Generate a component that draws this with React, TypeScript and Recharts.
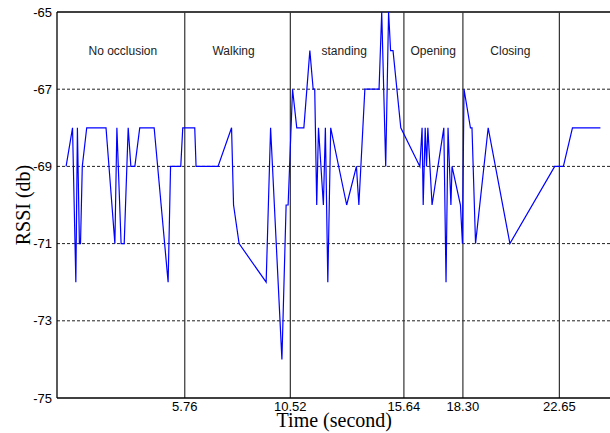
import React from 'react';
import { LineChart, Line, XAxis, YAxis, ReferenceLine, ReferenceDot } from 'recharts';

const times = [
  0.41, 0.70, 0.85, 0.92, 1.01, 1.06, 1.14, 1.34, 2.21, 2.61, 2.70, 2.89, 3.03, 3.21, 3.33, 3.51, 3.73, 4.38,
  5.01, 5.12, 5.58, 5.67, 6.21, 6.27, 7.26, 7.87, 7.96, 8.21, 9.43, 9.63, 10.14, 10.33, 10.42,
  10.62, 10.81, 11.13, 11.40, 11.55, 11.62, 11.71, 11.79, 12.01, 12.10, 12.21, 12.34, 13.06, 13.50, 13.61,
  13.88, 14.52, 14.64, 14.82, 14.95, 15.04, 15.15, 15.50,
  16.36, 16.46, 16.51, 16.60, 16.66, 16.72, 16.91, 17.44, 17.54, 17.63, 17.76, 17.81, 18.19, 18.28,
  18.35, 18.64, 18.71, 18.87, 19.44, 20.42, 22.44, 22.83, 23.24, 24.50,
];
const rssi = [
  -69, -68, -72, -68, -71, -71, -69, -68, -68, -71, -68, -71, -71, -68, -69, -69, -68, -68,
  -72, -69, -69, -68, -68, -69, -69, -68, -70, -71, -72, -68, -74, -70, -70,
  -67, -68, -68, -66, -67, -67, -70, -68, -70, -68, -72, -68, -70, -69, -70,
  -67, -67, -65, -69, -65, -66, -66, -68,
  -69, -68, -70, -68, -69, -68, -70, -68, -72, -68, -70, -69, -70, -71,
  -67, -68, -68, -71, -68, -71, -69, -69, -68, -68,
];

const phaseBoundaries = [5.76, 10.52, 15.64, 18.3, 22.65];
const phaseNames = ['No occlusion', 'Walking', 'standing', 'Opening', 'Closing'];
const phaseLabelX = [2.97, 7.96, 12.95, 16.96, 20.44];
const phaseLabelY = -66;
const yTicks = [-75, -73, -71, -69, -67, -65];
const dashedLevels = [-73, -71, -69, -67];

const data = times.map((t, i) => ({ t, rssi: rssi[i] }));

const SANS = 'Liberation Sans, Arial, sans-serif';
const SERIF = 'Liberation Serif, Times New Roman, serif';

export default function App() {
  return (
    <div style={{ position: 'absolute', left: 0, top: 0, width: 610, height: 433, overflow: 'hidden', background: '#fff' }}>
      <LineChart width={620} height={433} data={data} margin={{ top: 12, right: 8.5, bottom: 0, left: 0 }}>
        <XAxis
          dataKey="t"
          type="number"
          domain={[0, 25]}
          ticks={phaseBoundaries}
          interval={0}
          allowDataOverflow
          tickFormatter={(v: number) => v.toFixed(2)}
          axisLine={{ stroke: '#000', strokeWidth: 1.3 }}
          tickLine={false}
          tickSize={2}
          tickMargin={2}
          height={35}
          tick={{ fill: '#000', fontSize: 13, fontFamily: SANS }}
          label={(props: any) => {
            const vb = props.viewBox || { x: 57, y: 398, width: 554, height: 35 };
            return (
              <text x={vb.x + vb.width / 2} y={vb.y + 29} textAnchor="middle" fontFamily={SERIF} fontSize={20} fill="#000">
                Time (second)
              </text>
            );
          }}
        />
        <YAxis
          type="number"
          domain={[-75, -65]}
          ticks={yTicks}
          interval={0}
          allowDataOverflow
          width={57}
          axisLine={{ stroke: '#000', strokeWidth: 1.3 }}
          tickLine={false}
          tickSize={3}
          tickMargin={2}
          tick={{ fill: '#000', fontSize: 13, fontFamily: SANS }}
          label={(props: any) => {
            const vb = props.viewBox || { x: 0, y: 12, width: 57, height: 386 };
            const cx = vb.x + 30;
            const cy = vb.y + vb.height / 2;
            return (
              <text x={cx} y={cy} transform={`rotate(-90 ${cx} ${cy})`} textAnchor="middle" fontFamily={SERIF} fontSize={20} fill="#000">
                RSSI (db)
              </text>
            );
          }}
        />
        {dashedLevels.map((v) => (
          <ReferenceLine key={'h' + v} y={v} stroke="#222" strokeWidth={1} strokeDasharray="3 2" />
        ))}
        <ReferenceLine y={-65} stroke="#000" strokeWidth={1.3} />
        <ReferenceLine x={25} stroke="#000" strokeWidth={1.3} />
        {phaseBoundaries.map((b) => (
          <ReferenceLine key={'v' + b} x={b} stroke="#333" strokeWidth={1.2} />
        ))}
        {phaseNames.map((name, i) => (
          <ReferenceDot
            key={name}
            x={phaseLabelX[i]}
            y={phaseLabelY}
            r={0}
            fill="none"
            stroke="none"
            label={{ value: name, position: 'center', fill: '#222', fontSize: 12, fontFamily: SANS }}
          />
        ))}
        <Line
          type="linear"
          dataKey="rssi"
          stroke="#0000ff"
          strokeWidth={1.2}
          dot={false}
          activeDot={false}
          isAnimationActive={false}
        />
      </LineChart>
    </div>
  );
}
